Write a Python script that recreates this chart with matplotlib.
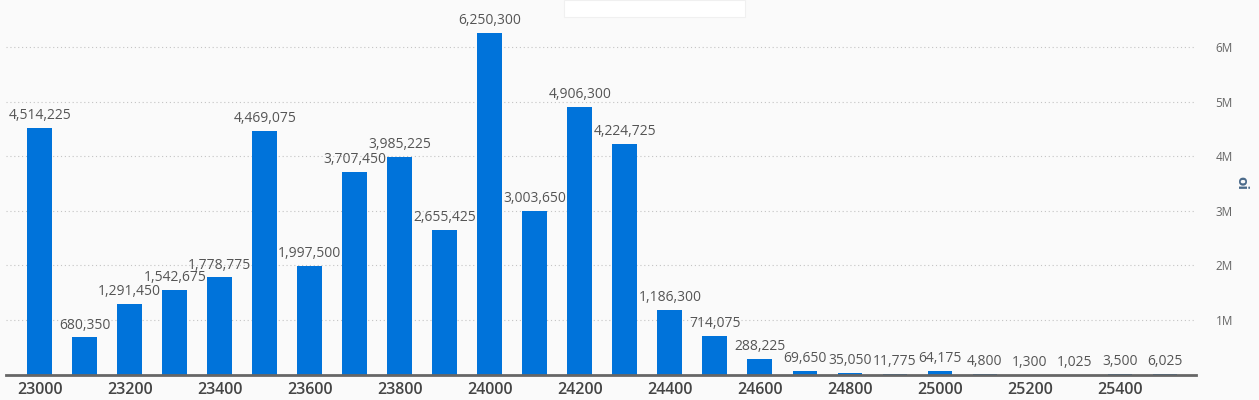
import matplotlib
matplotlib.use("Agg")
import matplotlib.pyplot as plt
from matplotlib.patches import Rectangle
from matplotlib.ticker import FuncFormatter

# strikes et open interest
strikes = [23000, 23100, 23200, 23300, 23400, 23500, 23600, 23700, 23800, 23900,
           24000, 24100, 24200, 24300, 24400, 24500, 24600, 24700, 24800, 24900,
           25000, 25100, 25200, 25300, 25400, 25500]
oi = [4514225, 680350, 1291450, 1542675, 1778775, 4469075, 1997500, 3707450, 3985225, 2655425,
      6250300, 3003650, 4906300, 4224725, 1186300, 714075, 288225, 69650, 35050, 11775,
      64175, 4800, 1300, 1025, 3500, 6025]
yticks = [1e6, 2e6, 3e6, 4e6, 5e6, 6e6]
xticks = [23000, 23200, 23400, 23600, 23800, 24000, 24200, 24400, 24600, 24800, 25000, 25200, 25400]

plt.rcParams['font.family'] = ['Open Sans', 'DejaVu Sans']

fond = '#fafafa'
fig = plt.figure(figsize=(12.59, 4), dpi=100, facecolor=fond)
ax = fig.add_axes([6/1259, 25.4/400, 1190/1259, 374.6/400])
ax.set_facecolor(fond)

ax.bar(strikes, oi, width=55, color='#0073da', zorder=3)

for x, v in zip(strikes, oi):
    ax.text(x, v + 90000, f"{v:,}", ha='center', va='bottom', fontsize=10, color='#555555', zorder=4)

ax.set_xlim(22925, 25569)
ax.set_ylim(0, 6.86e6)

ax.yaxis.tick_right()
ax.set_yticks(yticks)
ax.yaxis.set_major_formatter(FuncFormatter(lambda v, p: f"{int(v/1e6)}M"))
ax.tick_params(axis='y', length=0, pad=14, labelsize=8.5, labelcolor='#666666')
ax.text(1.0378, 0.511, 'oi', transform=ax.transAxes, rotation=270, ha='center', va='center',
        fontsize=11, color='#4a6a8a', fontweight='bold')

ax.set_xticks(xticks)
ax.set_xticklabels([str(t) for t in xticks])
ax.tick_params(axis='x', length=0, pad=5, labelsize=11.5, labelcolor='#444444')
for lab in ax.get_xticklabels():
    lab.set_fontweight('semibold')

ax.grid(axis='y', linestyle=(0, (1, 2.5)), color='#c4c4c4', linewidth=0.8, zorder=0)
for s in ['top', 'left', 'right']:
    ax.spines[s].set_visible(False)
ax.spines['bottom'].set_color('#666666')
ax.spines['bottom'].set_linewidth(2)
ax.spines['bottom'].set_zorder(5)

# petit cadre blanc en haut
fig.patches.append(Rectangle((564/1259, 1 - 17/400), 181/1259, 17/400, transform=fig.transFigure,
                             facecolor='white', edgecolor='#f0f0f0', linewidth=0.8))

fig.savefig('out.png', dpi=100, facecolor=fond)
